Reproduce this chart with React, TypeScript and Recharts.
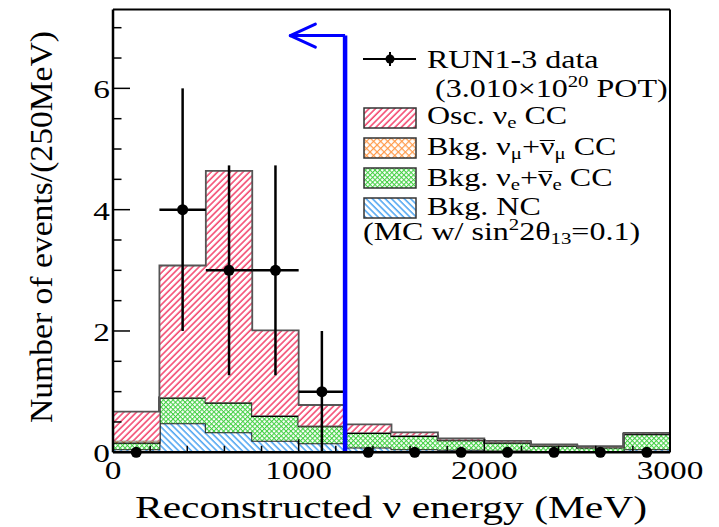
import {
  ComposedChart,
  Area,
  Scatter,
  ErrorBar,
  XAxis,
  YAxis,
  ReferenceLine,
} from 'recharts';

// bin edges (MeV), 250 MeV bins
const binEdges = [0, 250, 500, 750, 1000, 1250, 1500, 1750, 2000, 2250, 2500, 2750, 3000];

// MC stack components per bin (bottom -> top)
const ncBkg = [0.05, 0.48, 0.33, 0.19, 0.15, 0.08, 0.05, 0.04, 0.03, 0.02, 0.02, 0.05];
const nueBkg = [0.11, 0.42, 0.49, 0.41, 0.28, 0.24, 0.22, 0.16, 0.13, 0.09, 0.06, 0.25];
const numuBkg = [0.03, 0.01, 0.01, 0.01, 0.01, 0.01, 0.01, 0.01, 0.01, 0.01, 0.01, 0.01];
const oscNue = [0.48, 2.17, 3.81, 1.4, 0.34, 0.13, 0.05, 0.02, 0.02, 0.01, 0.01, 0.01];

// data points
const dataCenters = [125, 375, 625, 875, 1125, 1375, 1625, 1875, 2125, 2375, 2625, 2875];
const dataCounts = [0, 4, 3, 3, 1, 0, 0, 0, 0, 0, 0, 0];
const dataErrY = [0, 2, 1.73, 1.73, 1, 0, 0, 0, 0, 0, 0, 0];
const dataErrX = [0, 125, 125, 125, 125, 0, 0, 0, 0, 0, 0, 0];

// axes
const xTicks = [0, 200, 400, 600, 800, 1000, 1200, 1400, 1600, 1800, 2000, 2200, 2400, 2600, 2800, 3000];
const xMajor = [0, 1000, 2000, 3000];
const yTicks = [0, 0.5, 1, 1.5, 2, 2.5, 3, 3.5, 4, 4.5, 5, 5.5, 6, 6.5, 7];
const yMajor = [0, 2, 4, 6];

// cut arrow
const cutEnergy = 1250;
const cutTop = 6.87;
const arrowTip = 955;
const arrowHeadLen = 135;
const arrowHeadHalf = 0.19;

const histRows = binEdges.map((e, i) => {
  const b = Math.min(i, ncBkg.length - 1);
  return { e, nc: ncBkg[b], nue: nueBkg[b], numu: numuBkg[b], osc: oscNue[b] };
});

const points = dataCenters.map((e, i) => ({
  e,
  n: dataCounts[i],
  ey: dataErrY[i],
  ex: dataErrX[i],
}));

const serif = '"Liberation Serif", "Times New Roman", serif';
const stretch = 1.28;

function PatternDefs() {
  return (
    <svg width={0} height={0} style={{ position: 'absolute' }}>
      <defs>
        <pattern id="hatchRed" patternUnits="userSpaceOnUse" width={4.5} height={4.5} patternTransform="rotate(45)">
          <rect width={4.5} height={4.5} fill="#fff" />
          <line x1={1} y1={0} x2={1} y2={4.5} stroke="#f2335f" strokeWidth={1.4} />
        </pattern>
        <pattern id="hatchBlue" patternUnits="userSpaceOnUse" width={4.5} height={4.5} patternTransform="rotate(-45)">
          <rect width={4.5} height={4.5} fill="#fff" />
          <line x1={1} y1={0} x2={1} y2={4.5} stroke="#3d9cf0" strokeWidth={1.4} />
        </pattern>
        <pattern id="crossGreen" patternUnits="userSpaceOnUse" width={3.4} height={3.4} patternTransform="rotate(45)">
          <rect width={3.4} height={3.4} fill="#fff" />
          <path d="M0,0.5 L3.4,0.5 M0.5,0 L0.5,3.4" stroke="#44d044" strokeWidth={1.1} />
        </pattern>
        <pattern id="crossOrange" patternUnits="userSpaceOnUse" width={5} height={5} patternTransform="rotate(45)">
          <rect width={5} height={5} fill="#fff" />
          <path d="M0,0.5 L5,0.5 M0.5,0 L0.5,5" stroke="#ff9a4a" strokeWidth={1.3} />
        </pattern>
      </defs>
    </svg>
  );
}

function renderXTick(props: any) {
  const { x, y, payload } = props;
  const major = xMajor.includes(payload.value);
  const label = String(payload.value);
  return (
    <g>
      <line x1={x} x2={x} y1={y} y2={y - (major ? 13 : 6.5)} stroke="#000" strokeWidth={1.5} />
      {major && (
        <text
          x={x}
          y={y + 27}
          textAnchor="middle"
          fontFamily={serif}
          fontSize={26}
          fill="#000"
          textLength={label.length * 13 * stretch}
          lengthAdjust="spacingAndGlyphs"
        >
          {label}
        </text>
      )}
    </g>
  );
}

function renderYTick(props: any) {
  const { x, y, payload } = props;
  const major = yMajor.includes(payload.value);
  const label = String(payload.value);
  return (
    <g>
      <line x1={x} x2={x + (major ? 17 : 8.5)} y1={y} y2={y} stroke="#000" strokeWidth={1.5} />
      {major && (
        <text
          x={x - 3}
          y={y + 10}
          textAnchor="end"
          fontFamily={serif}
          fontSize={26}
          fill="#000"
          textLength={label.length * 13 * stretch}
          lengthAdjust="spacingAndGlyphs"
        >
          {label}
        </text>
      )}
    </g>
  );
}

function DataDot(props: any) {
  const { cx, cy } = props;
  return <circle cx={cx} cy={cy} r={5.5} fill="#000" />;
}

const Sub = ({ children }: { children: any }) => (
  <span style={{ fontSize: '0.65em', position: 'relative', top: '0.3em' }}>{children}</span>
);
const Sup = ({ children }: { children: any }) => (
  <span style={{ fontSize: '0.65em', position: 'relative', top: '-0.6em' }}>{children}</span>
);
const NuBar = () => (
  <span style={{ display: 'inline-block', borderTop: '1.8px solid #000', lineHeight: '0.5em' }}>ν</span>
);

function LegendText({ left, baseline, children }: { left: number; baseline: number; children: any }) {
  return (
    <div
      style={{
        position: 'absolute',
        left,
        top: baseline - 18.4,
        fontFamily: serif,
        fontSize: 25,
        lineHeight: '20px',
        whiteSpace: 'nowrap',
        color: '#000',
        transform: `scaleX(${stretch})`,
        transformOrigin: 'left',
      }}
    >
      {children}
    </div>
  );
}

function Swatch({ top, fill }: { top: number; fill: string }) {
  return (
    <svg width={54} height={22} style={{ position: 'absolute', left: 363, top: top - 1 }}>
      <rect x={1} y={1} width={52} height={20} fill={fill} stroke="#333" strokeWidth={1.5} />
    </svg>
  );
}

function ChartLegend() {
  return (
    <div style={{ position: 'absolute', left: 0, top: 0 }}>
      <svg width={56} height={22} style={{ position: 'absolute', left: 362, top: 48 }}>
        <line x1={1} x2={54} y1={11} y2={11} stroke="#000" strokeWidth={2} />
        <line x1={28} x2={28} y1={4} y2={18} stroke="#000" strokeWidth={2} />
        <circle cx={28} cy={11} r={4.5} fill="#000" />
      </svg>
      <LegendText left={427} baseline={68}>RUN1-3 data</LegendText>
      <LegendText left={435} baseline={97}>
        (3.010×10<Sup>20</Sup> POT)
      </LegendText>
      <Swatch top={108} fill="url(#hatchRed)" />
      <LegendText left={427} baseline={124}>
        Osc. ν<Sub>e</Sub> CC
      </LegendText>
      <Swatch top={138} fill="url(#crossOrange)" />
      <LegendText left={427} baseline={155}>
        Bkg. ν<Sub>μ</Sub>+<NuBar /><Sub>μ</Sub> CC
      </LegendText>
      <Swatch top={168} fill="url(#crossGreen)" />
      <LegendText left={427} baseline={186}>
        Bkg. ν<Sub>e</Sub>+<NuBar /><Sub>e</Sub> CC
      </LegendText>
      <Swatch top={198} fill="url(#hatchBlue)" />
      <LegendText left={427} baseline={215}>Bkg. NC</LegendText>
      <LegendText left={363} baseline={240}>
        (MC w/ sin<Sup>2</Sup>2θ<Sub>13</Sub>=0.1)
      </LegendText>
    </div>
  );
}

export default function App() {
  return (
    <div style={{ position: 'absolute', left: 0, top: 0, width: 719, height: 527, background: '#fff' }}>
      <PatternDefs />
      <ComposedChart
        width={719}
        height={527}
        data={histRows}
        margin={{ top: 8.5, right: 48, bottom: 34.7, left: 73 }}
      >
        <XAxis
          dataKey="e"
          type="number"
          domain={[0, 3000]}
          ticks={xTicks}
          interval={0}
          height={40}
          tickSize={0}
          tickMargin={0}
          tickLine={false}
          tick={renderXTick}
          axisLine={{ stroke: '#000', strokeWidth: 2.5 }}
        />
        <XAxis
          xAxisId="top"
          orientation="top"
          dataKey="e"
          type="number"
          domain={[0, 3000]}
          height={1}
          tick={false}
          tickLine={false}
          axisLine={{ stroke: '#000', strokeWidth: 2 }}
        />
        <YAxis
          type="number"
          domain={[0, 7.3]}
          ticks={yTicks}
          interval={0}
          width={40}
          tickSize={0}
          tickMargin={0}
          tickLine={false}
          tick={renderYTick}
          axisLine={{ stroke: '#000', strokeWidth: 2.5 }}
        />
        <YAxis
          yAxisId="right"
          orientation="right"
          type="number"
          domain={[0, 7.3]}
          width={1}
          tick={false}
          tickLine={false}
          axisLine={{ stroke: '#000', strokeWidth: 2 }}
        />
        <Area
          type="stepAfter"
          dataKey="nc"
          stackId="mc"
          fill="url(#hatchBlue)"
          fillOpacity={1}
          stroke="#222"
          strokeWidth={2}
          dot={false}
          activeDot={false}
          isAnimationActive={false}
        />
        <Area
          type="stepAfter"
          dataKey="nue"
          stackId="mc"
          fill="url(#crossGreen)"
          fillOpacity={1}
          stroke="#000"
          strokeWidth={2.2}
          dot={false}
          activeDot={false}
          isAnimationActive={false}
        />
        <Area
          type="stepAfter"
          dataKey="numu"
          stackId="mc"
          fill="url(#crossOrange)"
          fillOpacity={1}
          stroke="#666"
          strokeWidth={1.5}
          dot={false}
          activeDot={false}
          isAnimationActive={false}
        />
        <Area
          type="stepAfter"
          dataKey="osc"
          stackId="mc"
          fill="url(#hatchRed)"
          fillOpacity={1}
          stroke="#555"
          strokeWidth={1.8}
          dot={false}
          activeDot={false}
          isAnimationActive={false}
        />
        <Scatter data={points} dataKey="n" shape={DataDot} isAnimationActive={false}>
          <ErrorBar dataKey="ey" direction="y" width={0} stroke="#000" strokeWidth={2.5} isAnimationActive={false} />
          <ErrorBar dataKey="ex" direction="x" width={0} stroke="#000" strokeWidth={2.5} isAnimationActive={false} />
        </Scatter>
        <ReferenceLine
          segment={[{ x: cutEnergy, y: 0 }, { x: cutEnergy, y: cutTop }]}
          stroke="#0000ff"
          strokeWidth={4.5}
        />
        <ReferenceLine
          segment={[{ x: arrowTip, y: cutTop }, { x: cutEnergy, y: cutTop }]}
          stroke="#0000ff"
          strokeWidth={3}
        />
        <ReferenceLine
          segment={[{ x: arrowTip, y: cutTop }, { x: arrowTip + arrowHeadLen, y: cutTop + arrowHeadHalf }]}
          stroke="#0000ff"
          strokeWidth={3}
          strokeLinecap="round"
        />
        <ReferenceLine
          segment={[{ x: arrowTip, y: cutTop }, { x: arrowTip + arrowHeadLen, y: cutTop - arrowHeadHalf }]}
          stroke="#0000ff"
          strokeWidth={3}
          strokeLinecap="round"
        />
      </ComposedChart>
      <svg width={719} height={527} style={{ position: 'absolute', left: 0, top: 0, pointerEvents: 'none' }}>
        <text
          x={391}
          y={518}
          textAnchor="middle"
          fontFamily={serif}
          fontSize={32.5}
          fill="#000"
          textLength={512}
          lengthAdjust="spacingAndGlyphs"
        >
          Reconstructed ν energy (MeV)
        </text>
        <text
          transform="translate(52,227) rotate(-90)"
          textAnchor="middle"
          fontFamily={serif}
          fontSize={32}
          fill="#000"
          textLength={392}
          lengthAdjust="spacingAndGlyphs"
        >
          Number of events/(250MeV)
        </text>
      </svg>
      <ChartLegend />
    </div>
  );
}
